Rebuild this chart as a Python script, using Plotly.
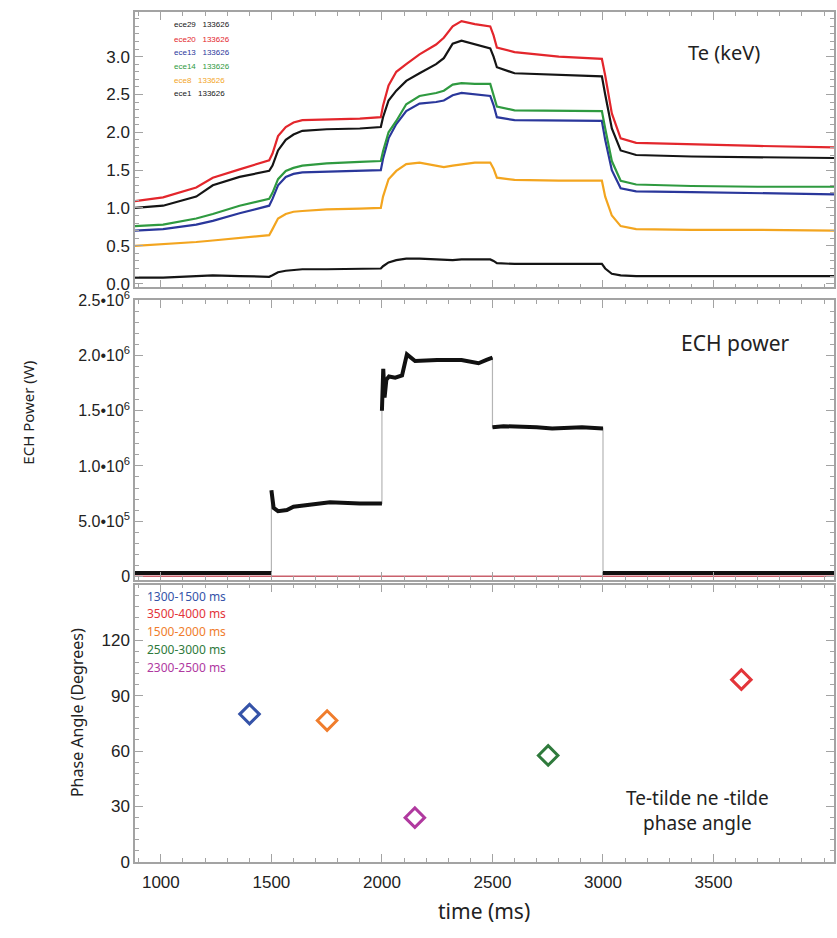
import plotly.graph_objects as go

# ---------------- Electron temperature (keV), ECE channels, shot 133626 ----------------
TE_TIME = [883, 1010, 1160, 1235, 1356, 1490, 1505, 1530, 1565, 1600, 1640, 1750, 1900, 1995,
           2005, 2030, 2065, 2110, 2170, 2245, 2280, 2320, 2360, 2420, 2490, 2505, 2520, 2600,
           2800, 2995, 3010, 3040, 3080, 3150, 3400, 3700, 4045]

TE_ECE29 = [1.00, 1.03, 1.15, 1.30, 1.41, 1.49, 1.56, 1.76, 1.90, 1.97, 2.02, 2.04, 2.05, 2.07,
            2.20, 2.42, 2.55, 2.68, 2.78, 2.90, 2.98, 3.17, 3.21, 3.16, 3.11, 3.00, 2.86, 2.78,
            2.76, 2.74, 2.50, 2.05, 1.76, 1.70, 1.68, 1.67, 1.66]
TE_ECE20 = [1.09, 1.14, 1.27, 1.40, 1.51, 1.63, 1.72, 1.95, 2.07, 2.13, 2.16, 2.17, 2.18, 2.20,
            2.35, 2.62, 2.80, 2.90, 3.03, 3.16, 3.25, 3.40, 3.47, 3.43, 3.40, 3.28, 3.12, 3.06,
            3.00, 2.97, 2.75, 2.25, 1.92, 1.86, 1.84, 1.82, 1.80]
TE_ECE13 = [0.70, 0.72, 0.78, 0.83, 0.93, 1.03, 1.12, 1.30, 1.41, 1.45, 1.47, 1.48, 1.49, 1.50,
            1.65, 1.92, 2.11, 2.28, 2.38, 2.40, 2.42, 2.49, 2.52, 2.50, 2.48, 2.36, 2.20, 2.16,
            2.15, 2.15, 1.90, 1.50, 1.26, 1.22, 1.21, 1.20, 1.18]
TE_ECE14 = [0.76, 0.78, 0.86, 0.92, 1.03, 1.12, 1.20, 1.38, 1.49, 1.53, 1.56, 1.59, 1.61, 1.62,
            1.75, 2.00, 2.15, 2.37, 2.48, 2.52, 2.55, 2.63, 2.65, 2.64, 2.64, 2.50, 2.34, 2.29,
            2.28, 2.28, 2.05, 1.62, 1.36, 1.31, 1.29, 1.28, 1.28]
TE_ECE8 = [0.50, 0.52, 0.55, 0.57, 0.60, 0.64, 0.72, 0.86, 0.92, 0.95, 0.96, 0.98, 0.99, 1.00,
           1.15, 1.38, 1.49, 1.58, 1.60, 1.56, 1.54, 1.56, 1.58, 1.60, 1.60, 1.52, 1.40, 1.37,
           1.36, 1.36, 1.15, 0.90, 0.76, 0.72, 0.71, 0.71, 0.70]
TE_ECE1 = [0.08, 0.08, 0.10, 0.11, 0.10, 0.09, 0.11, 0.15, 0.17, 0.18, 0.19, 0.19, 0.19, 0.20,
           0.23, 0.28, 0.31, 0.33, 0.33, 0.32, 0.31, 0.31, 0.32, 0.32, 0.32, 0.30, 0.27, 0.26,
           0.26, 0.26, 0.20, 0.13, 0.11, 0.10, 0.10, 0.10, 0.10]

CHANNEL_NAMES = ["ece29", "ece20", "ece13", "ece14", "ece8", "ece1"]
CHANNEL_VALUES = [TE_ECE29, TE_ECE20, TE_ECE13, TE_ECE14, TE_ECE8, TE_ECE1]
SHOT = "133626"

# ---------------- ECH power (W) ----------------
ECH_TIME = [883, 1500, 1500, 1510, 1530, 1570, 1600, 1700, 1765, 1900, 1995, 2000,
            2000, 2006, 2012, 2020, 2032, 2060, 2091, 2100, 2113, 2150, 2250, 2360,
            2437, 2473, 2495, 2500, 2500, 2550, 2700, 2770, 2905, 2995, 3000, 3000, 4045]
ECH_POWER = [0.03e6, 0.03e6, 0.78e6, 0.62e6, 0.59e6, 0.60e6, 0.63e6, 0.65e6, 0.67e6, 0.66e6,
             0.66e6, 0.66e6, 1.50e6, 1.88e6, 1.62e6, 1.78e6, 1.81e6, 1.80e6, 1.82e6, 1.90e6,
             2.01e6, 1.95e6, 1.96e6, 1.96e6, 1.93e6, 1.96e6, 1.98e6, 1.98e6, 1.35e6, 1.36e6,
             1.35e6, 1.34e6, 1.35e6, 1.34e6, 1.34e6, 0.03e6, 0.03e6]
ECH_REF_TIME = [883, 4045]
ECH_REF_POWER = [0.0, 0.0]
ECH_TICKS = [0, 5e5, 1e6, 1.5e6, 2e6, 2.5e6]
ECH_TICK_TEXT = ["0", "5.0•10<sup>5</sup>", "1.0•10<sup>6</sup>", "1.5•10<sup>6</sup>",
                 "2.0•10<sup>6</sup>", "2.5•10<sup>6</sup>"]

# ---------------- Te-tilde / ne-tilde phase angle (degrees) ----------------
PHASE_WINDOWS = ["1300-1500 ms", "3500-4000 ms", "1500-2000 ms", "2500-3000 ms", "2300-2500 ms"]
PHASE_TIME = [1401, 3626, 1752, 2752, 2149]
PHASE_ANGLE = [80, 98.6, 76.5, 57.6, 24]

TE_TICKS = [0.0, 0.5, 1.0, 1.5, 2.0, 2.5, 3.0]
TIME_TICKS = [1000, 1500, 2000, 2500, 3000, 3500]

# ---------------- styling ----------------
CHANNEL_COLORS = {"ece29": "#151515", "ece20": "#e3262c", "ece13": "#2a379b",
                  "ece14": "#2f9a40", "ece8": "#f3a51f", "ece1": "#151515"}
PHASE_COLORS = ["#3553a8", "#e3353a", "#f07d2c", "#2f7a3c", "#b0399f"]
AXIS_GREY = "#a3a3a3"
NUM_FONT = "Liberation Sans"
TXT_FONT = "Noto Sans"

fig = go.Figure()

# Te traces
for name, vals in zip(CHANNEL_NAMES, CHANNEL_VALUES):
    fig.add_trace(go.Scatter(x=TE_TIME, y=vals, mode="lines", xaxis="x", yaxis="y",
                             line=dict(color=CHANNEL_COLORS[name], width=2.2),
                             showlegend=False, hoverinfo="skip"))

# ECH power: thin grey path for the switching edges, thick black for the plateaus
fig.add_trace(go.Scatter(x=ECH_TIME, y=ECH_POWER, mode="lines", xaxis="x2", yaxis="y2",
                         line=dict(color="#b5b5b5", width=1.2), showlegend=False))
plateau_t, plateau_p = [], []
for i, (t, p) in enumerate(zip(ECH_TIME, ECH_POWER)):
    if i > 0 and t == ECH_TIME[i - 1]:
        plateau_t.append(None)
        plateau_p.append(None)
    plateau_t.append(t)
    plateau_p.append(p)
fig.add_trace(go.Scatter(x=ECH_REF_TIME, y=ECH_REF_POWER, mode="lines", xaxis="x2", yaxis="y2",
                         line=dict(color="#c9606c", width=1.5), showlegend=False))
fig.add_trace(go.Scatter(x=plateau_t, y=plateau_p, mode="lines", xaxis="x2", yaxis="y2",
                         line=dict(color="#111111", width=4), connectgaps=False,
                         showlegend=False))

# Phase angle points
fig.add_trace(go.Scatter(x=PHASE_TIME, y=PHASE_ANGLE, mode="markers", xaxis="x3", yaxis="y3",
                         marker=dict(symbol="diamond-open", size=15, color=PHASE_COLORS,
                                     line=dict(width=3, color=PHASE_COLORS)),
                         showlegend=False))

X_RANGE = [883, 4045]
axis_common = dict(showline=True, linecolor=AXIS_GREY, linewidth=1.5, mirror="allticks",
                   ticks="inside", ticklen=8, tickcolor=AXIS_GREY, tickwidth=1,
                   showgrid=False, zeroline=False)


def xaxis_style(anchor, show_labels):
    return dict(axis_common, anchor=anchor, domain=[0, 1], range=X_RANGE,
                tickvals=TIME_TICKS, showticklabels=show_labels,
                tickfont=dict(family=NUM_FONT, size=17, color="#222"),
                minor=dict(ticks="inside", ticklen=4, tickcolor=AXIS_GREY, dtick=100,
                           tick0=1000))


fig.update_layout(
    width=837, height=938,
    margin=dict(l=135, r=1, t=7, b=76),
    paper_bgcolor="white", plot_bgcolor="white",
    xaxis=xaxis_style("y", False),
    xaxis2=xaxis_style("y2", False),
    xaxis3=dict(xaxis_style("y3", True), ticklabelstandoff=4),
    yaxis=dict(axis_common, domain=[0.676, 1.0], range=[-0.05, 3.59], anchor="x",
               tickvals=TE_TICKS, ticktext=[f"{v:.1f}" for v in TE_TICKS],
               tickfont=dict(family=NUM_FONT, size=17, color="#222"),
               minor=dict(ticks="inside", ticklen=4, tickcolor=AXIS_GREY, dtick=0.1, tick0=0)),
    yaxis2=dict(axis_common, domain=[0.3322, 0.6608], range=[-0.03e6, 2.5e6], anchor="x2",
                tickvals=ECH_TICKS, ticktext=ECH_TICK_TEXT,
                tickfont=dict(family=NUM_FONT, size=16, color="#222"),
                minor=dict(ticks="inside", ticklen=4, tickcolor=AXIS_GREY, dtick=1e5, tick0=0)),
    yaxis3=dict(axis_common, domain=[0.0, 0.3263], range=[0, 150], anchor="x3",
                tickvals=[0, 30, 60, 90, 120],
                tickfont=dict(family=NUM_FONT, size=17, color="#222"),
                minor=dict(ticks="inside", ticklen=4, tickcolor=AXIS_GREY, dtick=6, tick0=0)),
)

ann = []


def label(xref, yref, x, y, text, size, color="#222", family=TXT_FONT, xanchor="center",
          angle=0, align="center"):
    return dict(xref=xref, yref=yref, x=x, y=y, xanchor=xanchor, yanchor="middle",
                showarrow=False, text=text, textangle=angle, align=align,
                font=dict(family=family, size=size, color=color))


# channel key in the Te panel
key_y = [0.953, 0.899, 0.852, 0.801, 0.751, 0.704]
for name, yy in zip(CHANNEL_NAMES, key_y):
    ann.append(label("x domain", "y domain", 0.053, yy, f"{name}&nbsp;&nbsp;&nbsp;{SHOT}", 8,
                     color=CHANNEL_COLORS[name], family=NUM_FONT, xanchor="left"))
# time-window key in the phase panel
win_y = [0.957, 0.896, 0.832, 0.767, 0.703]
for text, yy, col in zip(PHASE_WINDOWS, win_y, PHASE_COLORS):
    ann.append(label("x3 domain", "y3 domain", 0.014, yy, text, 12, color=col, xanchor="left"))

ann += [
    label("x domain", "y domain", 0.842, 0.852, "Te (keV)", 20),
    label("x2 domain", "y2 domain", 0.859, 0.847, "ECH power", 21),
    label("x3 domain", "y3 domain", 0.805, 0.185, "Te-tilde ne -tilde<br>phase angle", 19),
    label("paper", "y2 domain", -0.153, 0.598, "ECH Power (W)", 15, angle=-90),
    label("paper", "y3 domain", -0.084, 0.538, "Phase Angle (Degrees)", 16, angle=-90),
    label("paper", "paper", 0.499, -0.058, "time (ms)", 21),
]
fig.update_layout(annotations=ann)

fig.write_html("out.html")
